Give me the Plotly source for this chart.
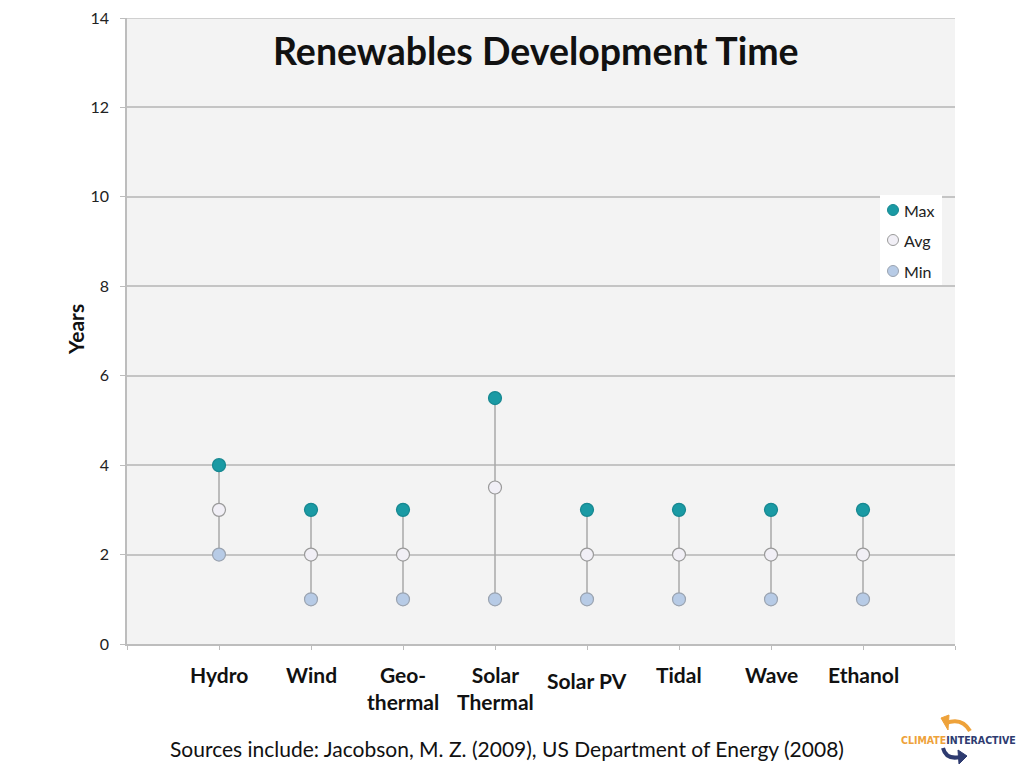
import plotly.graph_objects as go

categories = ["Hydro", "Wind", "Geo-<br>thermal", "Solar<br>Thermal", "Solar PV", "Tidal", "Wave", "Ethanol"]
max_years = [4, 3, 3, 5.5, 3, 3, 3, 3]
avg_years = [3, 2, 2, 3.5, 2, 2, 2, 2]
min_years = [2, 1, 1, 1, 1, 1, 1, 1]
y_ticks = [0, 2, 4, 6, 8, 10, 12, 14]
series_names = ["Max", "Avg", "Min"]

FONT = "Lato"
MAX_C, MAX_L = "#1a9aa4", "#178891"
AVG_C, AVG_L = "#f1eff6", "#9a9a9a"
MIN_C, MIN_L = "#b7cbe6", "#9aa3b0"

# plot area in page pixels (page has an 8px body margin)
PL, PR, PT, PB = 127, 955, 18, 644
PW, PH = PR - PL, PB - PT
OFF = 8
FW, FH = 1016, 760


def px(x):
    return (x - PL) / PW


def py(y):
    return (PB - y) / PH


xs = list(range(len(categories)))
line_x, line_y = [], []
for i in xs:
    line_x += [i, i, None]
    line_y += [min_years[i], max_years[i], None]

fig = go.Figure()
fig.add_trace(go.Scatter(x=line_x, y=line_y, mode="lines",
                         line=dict(color="#a9a9a9", width=1.5),
                         showlegend=False, hoverinfo="skip"))
for vals, name, c, lc in [(max_years, "Max", MAX_C, MAX_L),
                          (avg_years, "Avg", AVG_C, AVG_L),
                          (min_years, "Min", MIN_C, MIN_L)]:
    fig.add_trace(go.Scatter(x=xs, y=vals, mode="markers", name=name, showlegend=False,
                             marker=dict(size=13, color=c, line=dict(color=lc, width=1.2))))

annotations = []
for i, c in enumerate(categories):
    ytop = 666 if c == "Solar PV" else 660
    annotations.append(dict(x=i, y=py(ytop), xref="x", yref="paper",
                            text=f"<b>{c}</b>", showarrow=False, yanchor="top",
                            font=dict(family=FONT, size=21, color="#111")))

annotations += [
    dict(x=px(536), xref="paper", y=py(50), yref="paper", text="<b>Renewables Development Time</b>",
         showarrow=False, yanchor="middle", font=dict(family=FONT, size=37.5, color="#111")),
    dict(x=px(75), xref="paper", y=py(330), yref="paper", text="<b>Years</b>", textangle=-90,
         showarrow=False, xanchor="center", yanchor="middle",
         font=dict(family=FONT, size=21, color="#111")),
    dict(x=px(507), xref="paper", y=py(748), yref="paper",
         text="Sources include: Jacobson, M. Z. (2009), US Department of Energy (2008)",
         showarrow=False, yanchor="middle", font=dict(family=FONT, size=21, color="#111")),
    dict(x=px(958), xref="paper", y=py(740), yref="paper",
         text="<b><span style='color:#eea23a'>CLIMATE</span><span style='color:#2e3b70'>INTERACTIVE</span></b>",
         showarrow=False, xanchor="center", yanchor="middle",
         font=dict(family="DejaVu Sans Condensed, DejaVu Sans", size=10.5)),
]

# custom legend
shapes = [dict(type="rect", xref="paper", yref="paper", x0=px(880), x1=px(942),
               y0=py(195), y1=py(285), fillcolor="white", line=dict(width=0), layer="above")]
for name, yy, c, lc in [("Max", 210, MAX_C, MAX_L), ("Avg", 240, AVG_C, AVG_L), ("Min", 271, MIN_C, MIN_L)]:
    shapes.append(dict(type="circle", xref="paper", yref="paper",
                       x0=px(887.5), x1=px(898.5), y0=py(yy - 5.5), y1=py(yy + 5.5),
                       fillcolor=c, line=dict(color=lc, width=1), layer="above"))
    annotations.append(dict(x=px(902), xref="paper", y=py(yy), yref="paper", text=name,
                            showarrow=False, xanchor="left", yanchor="middle",
                            font=dict(family=FONT, size=16, color="#222")))

# top gridline edge
shapes.append(dict(type="line", xref="x domain", yref="y", x0=0, x1=1, y0=14, y1=14,
                   line=dict(color="#c4c4c4", width=1.5)))
# logo arrows
shapes.append(dict(type="path", xref="paper", yref="paper", layer="above",
                   path=f"M {px(970)} {py(731)} Q {px(962)} {py(717)} {px(946)} {py(723)}",
                   line=dict(color="#eea23a", width=4)))
shapes.append(dict(type="path", xref="paper", yref="paper", layer="above",
                   path=f"M {px(941)} {py(718)} L {px(949)} {py(715)} L {px(948)} {py(730)} Z",
                   fillcolor="#eea23a", line=dict(color="#eea23a", width=1)))
shapes.append(dict(type="path", xref="paper", yref="paper", layer="above",
                   path=f"M {px(943)} {py(748)} Q {px(946)} {py(760)} {px(960)} {py(757)}",
                   line=dict(color="#2e3b70", width=4)))
shapes.append(dict(type="path", xref="paper", yref="paper", layer="above",
                   path=f"M {px(958)} {py(750)} L {px(967)} {py(756)} L {px(959)} {py(764)} Z",
                   fillcolor="#2e3b70", line=dict(color="#2e3b70", width=1)))

fig.update_layout(
    width=FW, height=FH,
    margin=dict(l=PL - OFF, r=FW - (PR - OFF), t=PT - OFF, b=FH - (PB - OFF)),
    paper_bgcolor="white", plot_bgcolor="#f3f3f3",
    font=dict(family=FONT, color="#222"),
    annotations=annotations, shapes=shapes, showlegend=False,
    xaxis=dict(range=[-1, 8], tickvals=list(range(-1, 9)), showticklabels=False,
               showgrid=False, zeroline=False, showline=True, linecolor="#bdbdbd",
               linewidth=1.5, ticks="outside", ticklen=4, tickcolor="#bdbdbd",
               automargin=False),
    yaxis=dict(range=[0, 14], tickvals=y_ticks, showgrid=True, gridcolor="#c4c4c4",
               gridwidth=1.5, zeroline=False, showline=True, linecolor="#bdbdbd",
               linewidth=1.5, ticks="outside", ticklen=5, tickcolor="#bdbdbd",
               ticklabelstandoff=8, ticklabeloverflow="allow", automargin=False,
               tickfont=dict(family=FONT, size=16, color="#222")),
)

fig.write_html("out.html")
